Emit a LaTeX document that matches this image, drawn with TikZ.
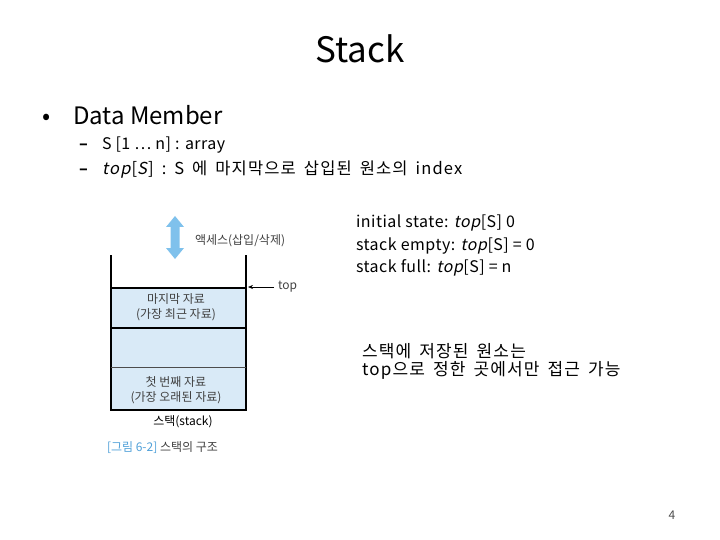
\documentclass[tikz,border=0pt]{standalone}
\usepackage{fontspec}
\usetikzlibrary{arrows.meta}
\setmainfont{Noto Sans CJK KR}[ItalicFont=Noto Sans CJK KR, ItalicFeatures={FakeSlant=0.2}]
\newfontfamily\korfont{Noto Sans CJK KR}[LetterSpace=7, ItalicFont=Noto Sans CJK KR, ItalicFeatures={FakeSlant=0.2}]
\newfontfamily\latfont{Noto Sans CJK KR}[LetterSpace=3, ItalicFont=Noto Sans CJK KR, ItalicFeatures={FakeSlant=0.2}]
\newcommand\korspacing{\spaceskip=8pt plus 0pt minus 0pt\relax}
\begin{document}
\begin{tikzpicture}[x=1pt,y=-1pt,
  every node/.style={inner sep=0pt, outer sep=0pt},
  txt/.style={anchor=base west, font=\latfont\fontsize{16}{19}\selectfont},
  kor/.style={anchor=base west, font=\korfont\fontsize{16.5}{19}\selectfont\korspacing},
  korbig/.style={anchor=base west, font=\korfont\fontsize{17}{19}\selectfont\korspacing},
  small/.style={font=\fontsize{12}{14}\selectfont, text=black!75},
  wall/.style={line width=1.4pt, black},
  cell/.style={fill=cellblue}]
\definecolor{cellblue}{HTML}{D9EAF7}
\definecolor{arrowblue}{HTML}{7FC1EC}
\definecolor{capblue}{HTML}{4FA0D8}
\useasboundingbox (0,0) rectangle (720,540);
% title
\node[anchor=base, font=\fontsize{35}{40}\selectfont] (title) at (360,63) {Stack};
% bullets
\node[anchor=base west, font=\fontsize{24}{28}\selectfont] (b1) at (42,125) {•};
\node[anchor=base west, font=\fontsize{24}{28}\selectfont] (dm) at (73,125) {Data Member};
\node[txt, font=\bfseries\fontsize{16}{19}\selectfont] (d1) at (79,150) {–};
\node[txt] (s1) at (102,150) {S [1 … n] : array};
\node[txt, font=\bfseries\fontsize{16}{19}\selectfont] (d2) at (79,175) {–};
\node[kor] (s2) at (102,175) {\textit{top}[\textit{S}] : S 에 마지막으로 삽입된 원소의 index};
% right texts
\node[txt] (r1) at (356,228) {initial state: \textit{top}[S] 0};
\node[txt] (r2) at (356,250) {stack empty: \textit{top}[S] = 0};
\node[txt] (r3) at (356,272) {stack full: \textit{top}[S] = n};
\node[korbig] (k1) at (362,357) {스택에 저장된 원소는};
\node[korbig] (k2) at (362,375) {top으로 정한 곳에서만 접근 가능};
% page number
\node[anchor=base, font=\fontsize{12}{14}\selectfont, text=black!70] (pg) at (672,519) {4};
% stack figure
\fill[cell] (111,288) rectangle (246,410);
\draw[wall] (111,255) -- (111,410) -- (246,410) -- (246,255);
\draw[wall] (111,288) -- (246,288);
\draw[line width=1.1pt] (111,328) -- (246,328);
\draw[line width=0.6pt, black!70] (111,367) -- (246,367);
% double arrow
\fill[arrowblue] (175,216) -- (184,227) -- (179.5,227) -- (179.5,248) -- (184,248) -- (175,259)
  -- (166,248) -- (170.5,248) -- (170.5,227) -- (166,227) -- cycle;
\node[small, anchor=west] (acc) at (195,241) {액세스(삽입/삭제)};
\node[small, anchor=west] (toplbl) at (278,287) {top};
\coordinate (topend) at (248,287);
\draw[-{Stealth[length=5pt,width=4pt]}, line width=0.6pt] (toplbl.west) ++(-4,0) coordinate (topstart) -- (topend);
\node[small, align=center] (last) at (176,307) {마지막 자료\\[1pt](가장 최근 자료)};
\node[small, align=center] (first) at (176,390) {첫 번째 자료\\[1pt](가장 오래된 자료)};
\node[small, text=black] (cap) at (183,422) {스택(stack)};
\node[small, anchor=west] (fig) at (107,448) {\textcolor{capblue}{[그림 6-2]} 스택의 구조};
\end{tikzpicture}
\end{document}
